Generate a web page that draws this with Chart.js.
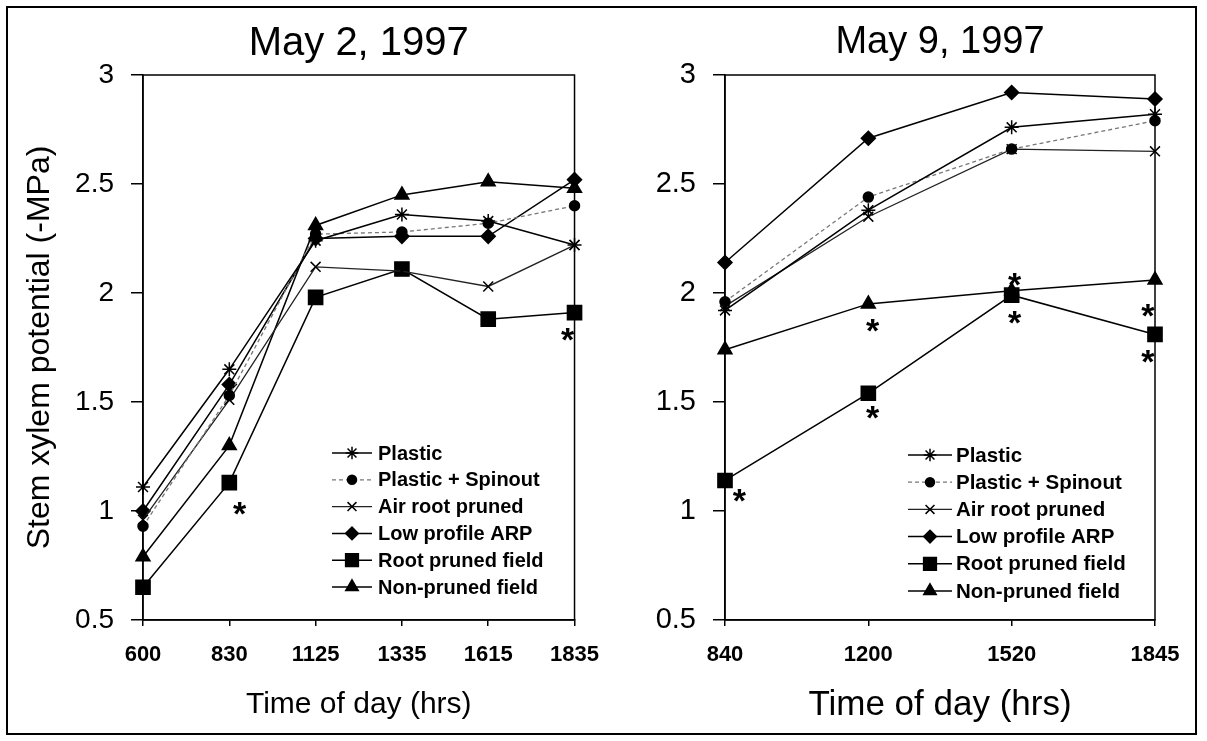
<!DOCTYPE html>
<html>
<head>
<meta charset="utf-8">
<script src="https://cdn.jsdelivr.net/npm/chart.js@4"></script>
<style>
body { margin: 0; background: #fff; }
#wrap { position: relative; width: 1207px; height: 741px; overflow: hidden; }
#frame { position: absolute; left: 6px; top: 6px; width: 1191px; height: 729px; border: 2px solid #000; box-sizing: border-box; }
canvas { position: absolute; top: 0; }
</style>
</head>
<body>
<div id="wrap">
    <div id="frame"></div>
    <canvas id="chart1" width="615" height="741" style="left:0"></canvas>
    <canvas id="chart2" width="607" height="741" style="left:600px"></canvas>
</div>
<script>
// May 2, 1997
const times1 = ['600', '830', '1125', '1335', '1615', '1835'];
const plastic1 = [1.11, 1.65, 2.24, 2.36, 2.33, 2.22];
const spinout1 = [0.93, 1.53, 2.27, 2.28, 2.32, 2.40];
const airRoot1 = [0.96, 1.51, 2.12, 2.10, 2.03, 2.22];
const lowProfile1 = [1.00, 1.58, 2.25, 2.26, 2.26, 2.52];
const rootPruned1 = [0.65, 1.13, 1.98, 2.11, 1.88, 1.91];
const nonPruned1 = [0.79, 1.30, 2.31, 2.45, 2.51, 2.48];
// significance stars (category index, value)
const sigX1 = [1.12, 4.92];
const sigY1 = [1.02, 1.82];

// May 9, 1997
const times2 = ['840', '1200', '1520', '1845'];
const plastic2 = [1.92, 2.38, 2.76, 2.82];
const spinout2 = [1.96, 2.44, 2.66, 2.79];
const airRoot2 = [1.94, 2.35, 2.66, 2.65];
const lowProfile2 = [2.14, 2.71, 2.92, 2.89];
const rootPruned2 = [1.14, 1.54, 1.99, 1.81];
const nonPruned2 = [1.74, 1.95, 2.01, 2.06];
const sigX2 = [0.1, 1.03, 1.03, 2.02, 2.02, 2.95, 2.95];
const sigY2 = [1.08, 1.86, 1.46, 2.07, 1.90, 1.93, 1.72];

const yTicks = [0.5, 1, 1.5, 2, 2.5, 3];

const FONT = "'Liberation Sans', Arial, sans-serif";

function series(label, data, style, radius, color, dash, width) {
    return {
        label: label,
        data: data,
        borderColor: color,
        borderWidth: width,
        borderDash: dash,
        pointStyle: style,
        pointRadius: radius,
        pointHoverRadius: radius,
        pointBackgroundColor: '#000',
        pointBorderColor: '#000',
        pointBorderWidth: 1.5,
        tension: 0,
        clip: false
    };
}

function makeSets(p, s, a, l, r, n) {
    return [
        series('Plastic', p, 'star', 7, '#000', [], 1.5),
        series('Plastic + Spinout', s, 'circle', 5, '#777', [4, 3], 1.3),
        series('Air root pruned', a, 'crossRot', 7, '#222', [], 1.3),
        series('Low profile ARP', l, 'rectRot', 7, '#000', [], 1.5),
        series('Root pruned field', r, 'rect', 10, '#000', [], 1.5),
        series('Non-pruned field', n, 'triangle', 8, '#000', [], 1.5)
    ];
}

// box round the plot area
const frameBox = {
    id: 'frameBox',
    beforeDatasetsDraw(chart) {
        const { ctx, chartArea } = chart;
        ctx.save();
        ctx.strokeStyle = '#000';
        ctx.lineWidth = 1.5;
        ctx.strokeRect(chartArea.left, chartArea.top, chartArea.width, chartArea.height);
        ctx.restore();
    }
};

// legend drawn inside the plot, line + marker + bold text
const legendBox = {
    id: 'legendBox',
    afterDraw(chart, args, opts) {
        const { ctx, chartArea } = chart;
        ctx.save();
        chart.data.datasets.forEach((ds, i) => {
            const x = chartArea.left + opts.left;
            const y = chartArea.top + opts.top + i * opts.rowGap;
            ctx.strokeStyle = ds.borderColor;
            ctx.lineWidth = ds.borderWidth;
            ctx.setLineDash(ds.borderDash);
            ctx.beginPath();
            ctx.moveTo(x, y);
            ctx.lineTo(x + opts.lineLen, y);
            ctx.stroke();
            ctx.setLineDash([]);
            ctx.fillStyle = ds.pointBackgroundColor;
            ctx.strokeStyle = ds.pointBorderColor;
            ctx.lineWidth = ds.pointBorderWidth;
            Chart.helpers.drawPoint(ctx, {
                pointStyle: ds.pointStyle,
                radius: ds.pointRadius * 0.9,
                rotation: 0,
                borderWidth: ds.pointBorderWidth
            }, x + opts.lineLen / 2, y);
            ctx.fillStyle = '#000';
            ctx.font = 'bold ' + opts.size + 'px ' + FONT;
            ctx.textAlign = 'left';
            ctx.textBaseline = 'middle';
            ctx.fillText(ds.label, x + opts.lineLen + opts.gap, y + 1);
        });
        ctx.restore();
    }
};

// the "*" significance marks
const sigMarks = {
    id: 'sigMarks',
    afterDatasetsDraw(chart, args, opts) {
        const { ctx, scales } = chart;
        const size = 34;
        ctx.save();
        ctx.fillStyle = '#000';
        ctx.font = 'bold ' + size + 'px ' + FONT;
        ctx.textAlign = 'center';
        ctx.textBaseline = 'alphabetic';
        opts.xs.forEach((xv, k) => {
            const px = scales.x.getPixelForValue(xv);
            const py = scales.y.getPixelForValue(opts.ys[k]);
            ctx.fillText('*', px, py + size * 0.55);
        });
        ctx.restore();
    }
};

function makeChart(id, cfg) {
    const ctx = document.getElementById(id).getContext('2d');
    return new Chart(ctx, {
        type: 'line',
        data: {
            labels: cfg.labels,
            datasets: cfg.datasets
        },
        plugins: [frameBox, sigMarks, legendBox],
        options: {
            responsive: false,
            animation: false,
            events: [],
            layout: { padding: cfg.padding },
            plugins: {
                legend: { display: false },
                tooltip: { enabled: false },
                title: {
                    display: true,
                    text: cfg.title,
                    fullSize: false,
                    color: '#000',
                    font: { family: FONT, size: cfg.titleSize, weight: 'normal' },
                    padding: { top: 12, bottom: 9.4 - (cfg.titleSize - 38) * 1.2 }
                },
                sigMarks: { xs: cfg.sigX, ys: cfg.sigY },
                legendBox: cfg.legend
            },
            scales: {
                x: {
                    offset: false,
                    grid: { display: true, drawOnChartArea: false, tickLength: 6, color: '#000', lineWidth: 1.5 },
                    border: { display: true, color: '#000', width: 1.5 },
                    ticks: {
                        color: '#000',
                        autoSkip: false,
                        maxRotation: 0,
                        padding: 16,
                        font: { family: FONT, size: cfg.xTickSize, weight: 'bold' }
                    },
                    title: {
                        display: true,
                        text: 'Time of day (hrs)',
                        color: '#000',
                        font: { family: FONT, size: cfg.xTitleSize },
                        padding: { top: 0, bottom: 3 }
                    },
                    afterFit: scale => { scale.height = cfg.xHeight; }
                },
                y: {
                    min: 0.5,
                    max: 3,
                    afterBuildTicks: scale => { scale.ticks = yTicks.map(v => ({ value: v })); },
                    grid: { display: true, drawOnChartArea: false, tickLength: 12, color: '#000', lineWidth: 1.5 },
                    border: { display: true, color: '#000', width: 1.5 },
                    ticks: {
                        color: '#000',
                        padding: 17,
                        font: { family: FONT, size: cfg.yTickSize },
                        callback: v => String(v)
                    },
                    title: {
                        display: cfg.yTitle !== '',
                        text: cfg.yTitle,
                        color: '#000',
                        font: { family: FONT, size: 32 },
                        padding: { top: 9, bottom: 0 }
                    },
                    afterFit: scale => { scale.width = cfg.yWidth; }
                }
            }
        }
    });
}

makeChart('chart1', {
    labels: times1,
    datasets: makeSets(plastic1, spinout1, airRoot1, lowProfile1, rootPruned1, nonPruned1),
    title: 'May 2, 1997',
    titleSize: 40,
    yTitle: 'Stem xylem potential (-MPa)',
    padding: { left: 12, top: 8, right: 40, bottom: 15 },
    yWidth: 131,
    xHeight: 106,
    xTickSize: 22,
    xTitleSize: 30,
    yTickSize: 28,
    sigX: sigX1,
    sigY: sigY1,
    legend: { left: 189, top: 378, rowGap: 26.8, lineLen: 40, gap: 6, size: 20 }
});

makeChart('chart2', {
    labels: times2,
    datasets: makeSets(plastic2, spinout2, airRoot2, lowProfile2, rootPruned2, nonPruned2),
    title: 'May 9, 1997',
    titleSize: 38,
    yTitle: '',
    padding: { left: 12, top: 8, right: 52, bottom: 12 },
    yWidth: 113,
    xHeight: 109,
    xTickSize: 22,
    xTitleSize: 35,
    yTickSize: 29,
    sigX: sigX2,
    sigY: sigY2,
    legend: { left: 183, top: 380, rowGap: 27.2, lineLen: 44, gap: 4, size: 20.5 }
});
</script>
</body>
</html>
